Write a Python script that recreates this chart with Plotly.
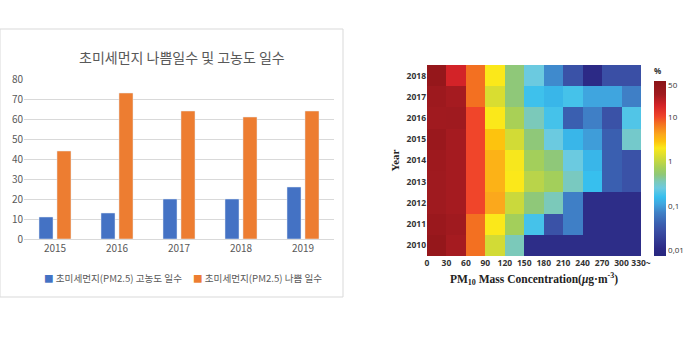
import numpy as np
import plotly.graph_objects as go

W, H = 698, 354

# ---------------- Left: bar chart data ----------------
bar_years = ["2015", "2016", "2017", "2018", "2019"]
high_days = [11, 13, 20, 20, 26]      # 초미세먼지(PM2.5) 고농도 일수
bad_days = [44, 73, 64, 61, 64]       # 초미세먼지(PM2.5) 나쁨 일수
bar_ticks = [0, 10, 20, 30, 40, 50, 60, 70, 80]

# ---------------- Right: heatmap data (% of days) ----------------
heat_years = [2010, 2011, 2012, 2013, 2014, 2015, 2016, 2017, 2018]
bin_edges = [0, 30, 60, 90, 120, 150, 180, 210, 240, 270, 300, 330]
bin_labels = ["0", "30", "60", "90", "120", "150", "180", "210", "240", "270", "300", "330~"]
pct_2010 = [45, 30, 7, 1.2, 0.35, 0.012, 0.012, 0.012, 0.012, 0.012, 0.012]
pct_2011 = [38, 32, 7, 2.0, 0.7, 0.18, 0.03, 0.07, 0.012, 0.012, 0.012]
pct_2012 = [33, 30, 10, 4.0, 1.1, 0.5, 0.35, 0.07, 0.012, 0.012, 0.012]
pct_2013 = [33, 30, 10, 3.5, 2.0, 0.9, 0.7, 0.33, 0.16, 0.04, 0.03]
pct_2014 = [34, 30, 10, 3.5, 1.9, 0.7, 0.5, 0.25, 0.14, 0.04, 0.03]
pct_2015 = [38, 30, 10, 2.8, 1.2, 0.5, 0.25, 0.14, 0.10, 0.04, 0.3]
pct_2016 = [32, 33, 10, 2.0, 0.75, 0.35, 0.18, 0.04, 0.07, 0.03, 0.2]
pct_2017 = [35, 30, 7, 1.3, 0.5, 0.17, 0.14, 0.18, 0.11, 0.11, 0.07]
pct_2018 = [45, 18, 7, 2.0, 0.5, 0.25, 0.08, 0.03, 0.011, 0.028, 0.028]
cbar_vals = [0.01, 0.1, 1, 10, 50]
cbar_text = ["0,01", "0,1", "1", "10", "50"]

pct = np.array([pct_2010, pct_2011, pct_2012, pct_2013, pct_2014,
                pct_2015, pct_2016, pct_2017, pct_2018], dtype=float)
z = np.log10(pct)
x_centers = [(a + b) / 2 for a, b in zip(bin_edges[:-1], bin_edges[1:])]

cmin, cmax = -2.12, 1.8
stops = [(-2.12, "#27277f"), (-1.95, "#2c2a86"), (-1.55, "#3a4fa5"), (-1.4, "#3a5fb0"),
         (-1.15, "#3f80c6"), (-0.95, "#3fa7e0"), (-0.8, "#36bfee"), (-0.6, "#6ccae0"),
         (-0.45, "#7cc9b8"), (-0.3, "#8fc879"), (-0.15, "#a4cf5a"), (0.1, "#d6dc33"),
         (0.3, "#fbe81a"), (0.45, "#fdc20e"), (0.6, "#fba81c"), (0.85, "#f36f21"),
         (1.0, "#f0452a"), (1.25, "#d42328"), (1.5, "#a01a1f"), (1.8, "#8a1418")]
colorscale = [[(v - cmin) / (cmax - cmin), c] for v, c in stops]

def px_x(p):
    return p / W

def px_y(p):
    return 1 - p / H

KR = "Noto Sans CJK KR"
GRAY = "#595959"

fig = go.Figure()

fig.add_trace(go.Bar(x=bar_years, y=high_days, marker_color="#4472C4",
                     name="초미세먼지(PM2.5) 고농도 일수", xaxis="x", yaxis="y"))
fig.add_trace(go.Bar(x=bar_years, y=bad_days, marker_color="#ED7D31",
                     name="초미세먼지(PM2.5) 나쁨 일수", xaxis="x", yaxis="y"))

fig.add_trace(go.Heatmap(
    x=x_centers, y=heat_years, z=z, zmin=cmin, zmax=cmax,
    colorscale=colorscale, xaxis="x2", yaxis="y2",
    colorbar=dict(
        x=px_x(654), xanchor="left", thickness=12, thicknessmode="pixels",
        len=(256 - 65) / H, lenmode="fraction", y=px_y((65 + 256) / 2), yanchor="middle",
        tickvals=list(np.log10(cbar_vals)), ticktext=cbar_text, ticks="",
        tickfont=dict(family="Open Sans", size=8, color="#333333"),
        outlinewidth=0, ypad=0, xpad=0,
        title=dict(text="<b>%</b>", side="top", font=dict(family="Open Sans", size=8, color="#333")),
    ),
))

fig.update_layout(
    width=W, height=H, margin=dict(l=0, r=0, t=0, b=0, autoexpand=False),
    paper_bgcolor="white", plot_bgcolor="white",
    showlegend=False,
    barmode="group", bargap=0.42, bargroupgap=0.22,
    xaxis=dict(domain=[px_x(24), px_x(334)], showgrid=False, showline=True,
               linecolor="#d9d9d9", linewidth=1, ticks="", automargin=False,
               tickfont=dict(family=KR, size=10, color=GRAY), fixedrange=True),
    yaxis=dict(domain=[px_y(239), px_y(79)], range=[0, 80], tickvals=bar_ticks,
               showgrid=True, gridcolor="#d9d9d9", gridwidth=1, zeroline=False, automargin=False,
               ticks="", tickfont=dict(family=KR, size=10, color=GRAY), fixedrange=True),
    xaxis2=dict(domain=[px_x(427), px_x(641)], range=[0, 330], anchor="y2",
                tickvals=bin_edges, ticktext=bin_labels, ticks="", showgrid=False,
                zeroline=False, showline=False, tickangle=0, automargin=False,
                tickfont=dict(family="Open Sans", size=8.5, color="#333", weight="bold"),
                title=dict(text="<b>PM<sub>10</sub> Mass Concentration(<i>μ</i>g·m<sup>-3</sup>)</b>",
                           font=dict(family="Liberation Serif", size=11.5, color="#222"), standoff=8)),
    yaxis2=dict(domain=[px_y(256), px_y(65)], range=[2009.5, 2018.5], anchor="x2",
                tickvals=heat_years, ticks="", showgrid=False, zeroline=False, automargin=False,
                tickfont=dict(family="Open Sans", size=8.5, color="#333", weight="bold"),
                title=dict(text="<b>Year</b>", font=dict(family="Liberation Serif", size=11, color="#222"),
                           standoff=4)),
)

# left panel frame
fig.add_shape(type="rect", xref="paper", yref="paper",
              x0=px_x(0), x1=px_x(343), y0=px_y(297), y1=px_y(29),
              line=dict(color="#d9d9d9", width=1), fillcolor="rgba(0,0,0,0)", layer="below")

# title
fig.add_annotation(text="초미세먼지 나쁨일수 및 고농도 일수", xref="paper", yref="paper",
                   x=px_x(182), y=px_y(57), showarrow=False, xanchor="center", yanchor="middle",
                   font=dict(family=KR, size=14, color=GRAY))

# legend (manual)
fig.add_annotation(text='<span style="color:#4472C4">■</span> 초미세먼지(PM2.5) 고농도 일수',
                   xref="paper", yref="paper", x=px_x(42), y=px_y(278), showarrow=False,
                   xanchor="left", yanchor="middle", font=dict(family=KR, size=9.6, color=GRAY))
fig.add_annotation(text='<span style="color:#ED7D31">■</span> 초미세먼지(PM2.5) 나쁨 일수',
                   xref="paper", yref="paper", x=px_x(191), y=px_y(278), showarrow=False,
                   xanchor="left", yanchor="middle", font=dict(family=KR, size=9.6, color=GRAY))

fig.write_html("out.html")
